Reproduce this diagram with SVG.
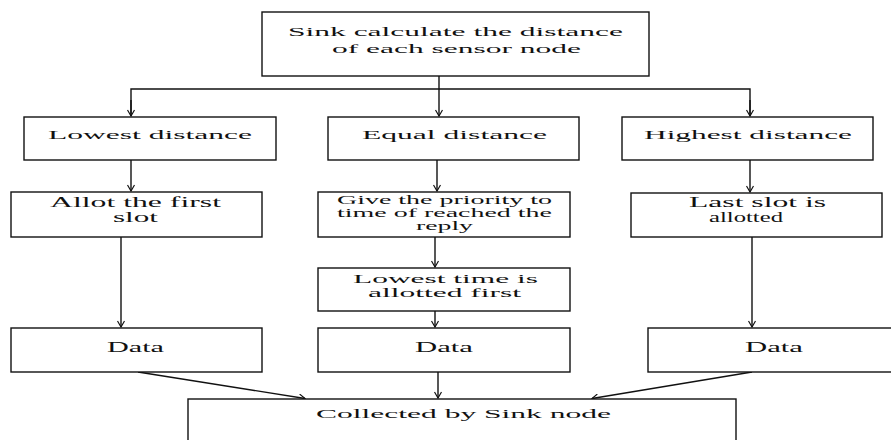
<svg xmlns="http://www.w3.org/2000/svg" width="891" height="440" viewBox="0 0 891 440">
<defs>
<marker id="arr" viewBox="-7 -4 8 8" refX="0" refY="0" markerWidth="8" markerHeight="8" markerUnits="userSpaceOnUse" orient="auto">
<path d="M-6,-3.5 L0,0 L-6,3.5" fill="none" stroke="#111" stroke-width="1.2"/>
</marker>
</defs>
<style>
.box{fill:#fff;stroke:#111;stroke-width:1.4}
.t{font-family:"Liberation Serif","Times New Roman",serif;fill:#111}
.c{fill:none;stroke:#111;stroke-width:1.4}
</style>
<rect width="891" height="440" fill="#fff"/>
<g id="connectors">
<line class="c" x1="439" y1="76" x2="439" y2="116" marker-end="url(#arr)"/>
<polyline class="c" points="131,116 131,89 750,89 750,116" fill="none"/>
<line class="c" x1="131" y1="100" x2="131" y2="116" marker-end="url(#arr)"/>
<line class="c" x1="750" y1="100" x2="750" y2="116" marker-end="url(#arr)"/>
<line class="c" x1="131" y1="160" x2="131" y2="191" marker-end="url(#arr)"/>
<line class="c" x1="437" y1="160" x2="437" y2="191" marker-end="url(#arr)"/>
<line class="c" x1="750" y1="160" x2="750" y2="192" marker-end="url(#arr)"/>
<line class="c" x1="121" y1="237" x2="121" y2="327" marker-end="url(#arr)"/>
<line class="c" x1="435" y1="237" x2="435" y2="267" marker-end="url(#arr)"/>
<line class="c" x1="752" y1="237" x2="752" y2="327" marker-end="url(#arr)"/>
<line class="c" x1="435" y1="311" x2="435" y2="327" marker-end="url(#arr)"/>
<line class="c" x1="138" y1="372" x2="305" y2="398.5" marker-end="url(#arr)"/>
<line class="c" x1="438" y1="372" x2="438" y2="398" marker-end="url(#arr)"/>
<line class="c" x1="752" y1="372" x2="592" y2="398.5" marker-end="url(#arr)"/>
</g>
<g id="sink-calc">
<rect class="box" x="262" y="12" width="387" height="64"/>
<text class="t" x="288" y="36" font-size="12" textLength="335" lengthAdjust="spacingAndGlyphs">Sink calculate the distance</text>
<text class="t" x="332" y="53" font-size="12" textLength="249" lengthAdjust="spacingAndGlyphs">of each sensor node</text>
</g>
<g id="lowest-distance">
<rect class="box" x="24" y="117" width="252" height="43"/>
<text class="t" x="48" y="139" font-size="12" textLength="204" lengthAdjust="spacingAndGlyphs">Lowest distance</text>
</g>
<g id="equal-distance">
<rect class="box" x="328" y="117" width="251" height="43"/>
<text class="t" x="362" y="139" font-size="12" textLength="185" lengthAdjust="spacingAndGlyphs">Equal distance</text>
</g>
<g id="highest-distance">
<rect class="box" x="622" y="117" width="251" height="43"/>
<text class="t" x="644" y="139" font-size="12" textLength="208" lengthAdjust="spacingAndGlyphs">Highest distance</text>
</g>
<g id="allot-first">
<rect class="box" x="11" y="192" width="251" height="45"/>
<text class="t" x="50" y="207" font-size="14" textLength="171" lengthAdjust="spacingAndGlyphs">Allot the first</text>
<text class="t" x="113" y="222" font-size="14" textLength="45" lengthAdjust="spacingAndGlyphs">slot</text>
</g>
<g id="give-priority">
<rect class="box" x="318" y="192" width="252" height="45"/>
<text class="t" x="337" y="204" font-size="11.5" textLength="215" lengthAdjust="spacingAndGlyphs">Give the priority to</text>
<text class="t" x="337" y="217" font-size="11.5" textLength="215" lengthAdjust="spacingAndGlyphs">time of reached the</text>
<text class="t" x="416" y="230" font-size="11.5" textLength="57" lengthAdjust="spacingAndGlyphs">reply</text>
</g>
<g id="last-slot">
<rect class="box" x="631" y="193" width="251" height="44"/>
<text class="t" x="689" y="207" font-size="14" textLength="137" lengthAdjust="spacingAndGlyphs">Last slot is</text>
<text class="t" x="709" y="222" font-size="14" textLength="74" lengthAdjust="spacingAndGlyphs">allotted</text>
</g>
<g id="lowest-time">
<rect class="box" x="318" y="268" width="252" height="43"/>
<text class="t" x="353" y="283" font-size="12" textLength="185" lengthAdjust="spacingAndGlyphs">Lowest time is</text>
<text class="t" x="368" y="296.5" font-size="12" textLength="153" lengthAdjust="spacingAndGlyphs">allotted first</text>
</g>
<g id="data-left">
<rect class="box" x="11" y="328" width="251" height="44"/>
<text class="t" x="107" y="352" font-size="15" textLength="57" lengthAdjust="spacingAndGlyphs">Data</text>
</g>
<g id="data-middle">
<rect class="box" x="318" y="328" width="252" height="44"/>
<text class="t" x="415" y="352" font-size="15" textLength="58" lengthAdjust="spacingAndGlyphs">Data</text>
</g>
<g id="data-right">
<rect class="box" x="648" y="328" width="250" height="44"/>
<text class="t" x="745" y="352" font-size="15" textLength="58" lengthAdjust="spacingAndGlyphs">Data</text>
</g>
<g id="collected">
<rect class="box" x="188" y="399" width="548" height="50"/>
<text class="t" x="316" y="418" font-size="12.5" textLength="295" lengthAdjust="spacingAndGlyphs">Collected by Sink node</text>
</g>
</svg>
